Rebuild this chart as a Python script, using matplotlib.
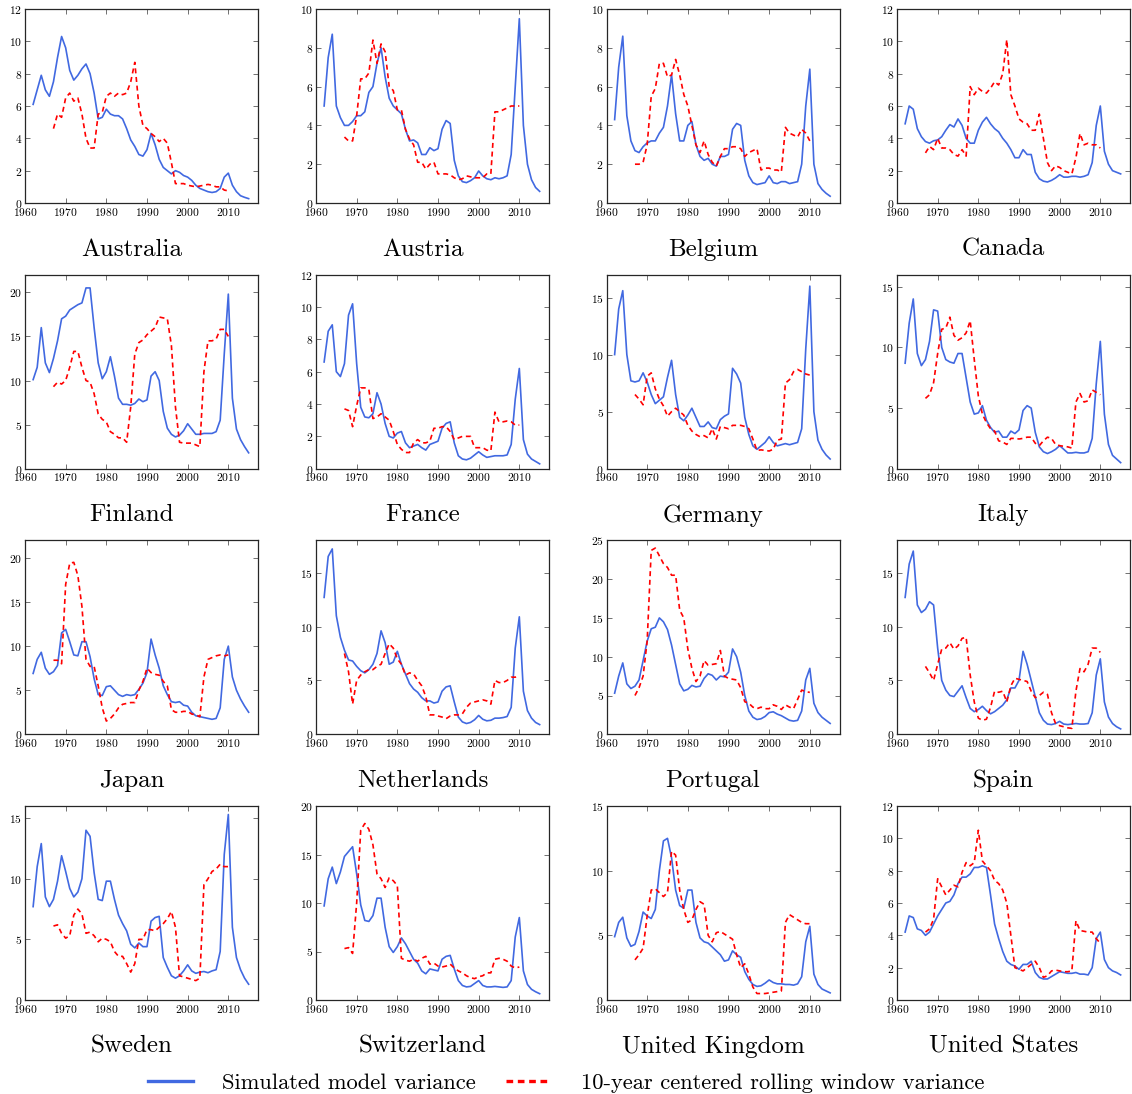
import numpy as np
import matplotlib
matplotlib.use("Agg")
import matplotlib.pyplot as plt
from matplotlib.lines import Line2D

plt.rcParams["font.family"] = "cmr10"
plt.rcParams["mathtext.fontset"] = "cm"
plt.rcParams["axes.formatter.use_mathtext"] = True

countries = ["Australia", "Austria", "Belgium", "Canada",
             "Finland", "France", "Germany", "Italy",
             "Japan", "Netherlands", "Portugal", "Spain",
             "Sweden", "Switzerland", "United Kingdom", "United States"]

# blue line: yearly values from 1962, red line: yearly values from 1967
model_start = 1962
rolling_start = 1967

australia_model = [6.1, 7.0, 7.9, 7.0, 6.6, 7.5, 9.0, 10.3, 9.6, 8.2, 7.6, 7.9, 8.3, 8.6, 8.0, 6.8, 5.2, 5.3, 5.8, 5.5,
                   5.4, 5.4, 5.2, 4.6, 3.9, 3.5, 3.0, 2.9, 3.3, 4.3, 3.6, 2.7, 2.2, 2.0, 1.8, 2.0, 1.9, 1.7, 1.6, 1.4,
                   1.1, 0.9, 0.8, 0.7, 0.65, 0.7, 0.9, 1.6, 1.85, 1.1, 0.7, 0.45, 0.35, 0.27]
australia_rolling = [4.6, 5.5, 5.3, 6.5, 6.8, 6.3, 6.5, 5.5, 4.0, 3.4, 3.4, 5.5, 5.6, 6.6, 6.8, 6.6, 6.8, 6.7, 6.8, 7.5,
                     8.7, 6.0, 4.8, 4.6, 4.3, 4.1, 3.8, 4.0, 3.7, 2.5, 1.2, 1.2, 1.2, 1.1, 1.05, 1.0, 1.05, 1.1, 1.15, 1.1,
                     1.0, 1.0, 0.8, 0.75]

austria_model = [5.0, 7.5, 8.7, 5.0, 4.4, 4.0, 4.0, 4.2, 4.5, 4.5, 4.7, 5.7, 6.0, 7.2, 8.0, 6.5, 5.4, 5.0, 4.8, 4.6,
                 3.8, 3.2, 3.25, 3.1, 2.5, 2.5, 2.85, 2.7, 2.8, 3.8, 4.25, 4.1, 2.2, 1.4, 1.1, 1.05, 1.15, 1.3, 1.65, 1.4,
                 1.25, 1.2, 1.3, 1.25, 1.3, 1.4, 2.5, 6.0, 9.5, 4.0, 2.0, 1.2, 0.8, 0.6]
austria_rolling = [3.4, 3.2, 3.2, 4.5, 6.4, 6.4, 6.7, 8.4, 7.2, 8.2, 7.8, 6.0, 5.8, 4.8, 4.8, 3.8, 3.3, 3.0, 2.1, 2.1,
                   1.75, 2.0, 2.1, 1.5, 1.5, 1.5, 1.45, 1.3, 1.2, 1.25, 1.4, 1.35, 1.3, 1.3, 1.3, 1.5, 1.5, 4.7, 4.7, 4.8,
                   4.9, 5.0, 5.0, 5.0]

belgium_model = [4.3, 7.0, 8.6, 4.5, 3.2, 2.7, 2.6, 2.9, 3.1, 3.2, 3.2, 3.6, 3.9, 5.0, 6.6, 4.6, 3.2, 3.2, 4.0, 4.2,
                 3.0, 2.4, 2.2, 2.3, 2.0, 1.9, 2.4, 2.4, 2.5, 3.8, 4.1, 4.0, 2.2, 1.4, 1.05, 0.95, 1.0, 1.05, 1.4, 1.05,
                 1.0, 1.1, 1.1, 1.0, 1.05, 1.1, 2.0, 5.0, 6.9, 2.0, 1.0, 0.7, 0.5, 0.35]
belgium_rolling = [2.0, 2.0, 2.1, 3.0, 5.5, 5.9, 7.2, 7.2, 6.5, 6.6, 7.4, 6.6, 5.6, 5.0, 4.0, 3.0, 2.6, 3.2, 2.5, 2.1,
                   1.9, 2.4, 2.8, 2.8, 2.9, 2.9, 2.8, 2.4, 2.6, 2.7, 2.8, 1.7, 1.8, 1.8, 1.7, 1.7, 1.6, 3.9, 3.6, 3.5,
                   3.4, 3.8, 3.6, 3.2]

canada_model = [4.9, 6.0, 5.8, 4.6, 4.1, 3.8, 3.7, 3.85, 3.9, 4.1, 4.5, 4.85, 4.7, 5.2, 4.8, 4.0, 3.7, 3.7, 4.5, 5.0,
                5.3, 4.9, 4.6, 4.4, 4.0, 3.7, 3.3, 2.8, 2.8, 3.3, 3.0, 3.0, 1.9, 1.5, 1.35, 1.3, 1.4, 1.55, 1.75, 1.6,
                1.6, 1.65, 1.65, 1.6, 1.65, 1.75, 2.5, 4.8, 6.0, 3.2, 2.4, 2.0, 1.9, 1.8]
canada_rolling = [3.1, 3.5, 3.3, 4.0, 3.4, 3.4, 3.3, 3.0, 2.9, 3.3, 2.9, 7.2, 6.7, 7.1, 6.9, 6.8, 7.1, 7.5, 7.3, 8.0,
                  10.1, 6.7, 6.0, 5.2, 5.0, 4.9, 4.5, 4.5, 5.5, 4.0, 2.5, 2.0, 2.3, 2.2, 2.0, 1.9, 1.8, 2.8, 4.3, 3.6,
                  3.7, 3.6, 3.6, 3.4]

finland_model = [10.1, 11.5, 16.0, 12.0, 10.9, 12.5, 14.5, 17.0, 17.3, 18.0, 18.3, 18.6, 18.8, 20.5, 20.5, 16.0, 12.0,
                 10.2, 11.0, 12.7, 10.5, 8.0, 7.3, 7.3, 7.2, 7.4, 7.9, 7.6, 7.8, 10.5, 11.0, 10.0, 6.5, 4.6, 3.9, 3.6,
                 3.8, 4.3, 5.1, 4.5, 3.9, 3.9, 4.0, 4.0, 4.0, 4.2, 5.5, 13.0, 19.8, 8.0, 4.5, 3.3, 2.5, 1.8]
finland_rolling = [9.3, 9.8, 9.6, 10.0, 11.5, 13.3, 13.3, 11.5, 10.0, 9.8, 8.5, 6.2, 5.6, 5.3, 4.2, 3.9, 3.5, 3.5, 3.0,
                   7.0, 13.0, 14.3, 14.6, 15.2, 15.6, 16.0, 17.2, 17.1, 17.0, 14.0, 7.0, 3.0, 2.9, 2.9, 2.9, 2.7, 2.5,
                   11.0, 14.5, 14.5, 14.7, 15.8, 15.8, 15.0]

france_model = [6.6, 8.5, 8.9, 6.0, 5.7, 6.5, 9.5, 10.2, 6.5, 3.8, 3.2, 3.15, 3.4, 4.7, 4.0, 2.8, 2.0, 1.9, 2.2, 2.3,
                1.6, 1.3, 1.4, 1.5, 1.3, 1.15, 1.5, 1.6, 1.7, 2.5, 2.8, 2.9, 1.6, 0.8, 0.6, 0.55, 0.65, 0.85, 1.05,
                0.85, 0.7, 0.75, 0.8, 0.8, 0.8, 0.85, 1.5, 4.3, 6.2, 1.8, 0.9, 0.6, 0.45, 0.3]
france_rolling = [3.7, 3.6, 2.6, 3.9, 5.0, 5.0, 4.9, 3.1, 3.2, 3.4, 3.2, 3.0, 2.3, 1.5, 1.2, 1.0, 1.0, 1.6, 1.8, 1.6,
                  1.6, 1.7, 2.5, 2.5, 2.6, 2.6, 2.3, 1.8, 1.9, 2.0, 2.0, 2.0, 1.3, 1.3, 1.3, 1.15, 1.1, 3.5, 2.9, 2.9,
                  2.95, 2.9, 2.7, 2.7]

germany_model = [10.0, 14.0, 15.6, 10.0, 7.7, 7.6, 7.7, 8.4, 7.6, 6.5, 5.7, 6.0, 6.3, 8.0, 9.5, 6.5, 4.5, 4.2, 4.7,
                 5.3, 4.5, 3.7, 3.7, 4.1, 3.6, 3.5, 4.3, 4.6, 4.8, 8.8, 8.3, 7.5, 4.5, 3.0, 2.0, 1.7, 2.0, 2.3, 2.8,
                 2.3, 2.0, 2.1, 2.2, 2.1, 2.2, 2.3, 3.5, 10.5, 16.0, 5.0, 2.5, 1.7, 1.2, 0.85]
germany_rolling = [6.5, 6.1, 5.6, 8.1, 8.4, 7.0, 6.1, 5.5, 4.6, 5.0, 5.3, 5.0, 4.7, 3.8, 3.3, 3.0, 2.8, 2.9, 2.7, 3.5,
                   2.6, 3.7, 3.6, 3.5, 3.8, 3.8, 3.8, 3.7, 3.5, 2.6, 1.6, 1.65, 1.6, 1.55, 1.7, 2.5, 2.6, 7.5, 7.8, 8.5,
                   8.7, 8.5, 8.3, 8.2]

italy_model = [8.7, 12.0, 14.0, 9.5, 8.5, 9.0, 10.5, 13.1, 13.0, 10.0, 9.0, 8.8, 8.7, 9.5, 9.5, 7.5, 5.5, 4.5, 4.6,
               5.2, 4.0, 3.4, 3.0, 3.1, 2.6, 2.6, 3.1, 2.9, 3.2, 4.8, 5.2, 5.0, 3.0, 1.8, 1.4, 1.25, 1.4, 1.6, 1.9, 1.6,
               1.3, 1.3, 1.35, 1.3, 1.3, 1.4, 2.5, 7.0, 10.5, 4.5, 2.0, 1.1, 0.8, 0.5]
italy_rolling = [5.8, 6.1, 7.1, 9.5, 11.5, 11.6, 12.5, 11.0, 10.6, 10.8, 11.2, 12.2, 9.0, 6.0, 4.5, 3.8, 3.3, 3.1, 2.3,
                 2.2, 2.0, 2.5, 2.5, 2.45, 2.5, 2.6, 2.6, 2.1, 1.9, 2.3, 2.6, 2.5, 2.0, 1.9, 1.85, 1.8, 1.7, 5.5, 6.2,
                 5.5, 5.6, 6.5, 6.3, 6.1]

japan_model = [6.9, 8.5, 9.3, 7.5, 6.8, 7.1, 7.8, 11.5, 11.9, 10.5, 9.0, 8.9, 10.5, 10.5, 8.8, 6.3, 4.5, 4.4, 5.4, 5.5,
               5.0, 4.5, 4.3, 4.5, 4.4, 4.5, 5.1, 5.8, 7.0, 10.8, 9.0, 7.5, 5.5, 4.5, 3.7, 3.6, 3.7, 3.3, 3.2, 2.5,
               2.1, 2.0, 1.9, 1.8, 1.7, 1.8, 3.0, 8.5, 10.0, 6.5, 5.0, 4.0, 3.2, 2.5]
japan_rolling = [8.4, 8.4, 8.0, 17.0, 19.4, 19.5, 18.0, 14.5, 8.5, 7.7, 7.7, 5.5, 3.0, 1.5, 1.8, 2.3, 3.0, 3.4, 3.5,
                 3.6, 3.6, 5.0, 6.0, 7.5, 7.0, 6.8, 6.7, 6.0, 5.5, 2.8, 2.5, 2.5, 2.6, 2.6, 2.3, 2.2, 2.0, 6.5, 8.5,
                 8.7, 8.9, 9.0, 8.9, 9.0]

netherlands_model = [12.7, 16.5, 17.2, 11.0, 9.0, 7.8, 6.9, 6.8, 6.3, 5.9, 5.7, 6.0, 6.5, 7.5, 9.6, 8.5, 6.5, 6.7, 7.7,
                     6.5, 5.6, 4.7, 4.2, 3.9, 3.4, 3.1, 3.1, 2.9, 3.0, 4.0, 4.4, 4.5, 3.0, 1.6, 1.15, 1.0, 1.1, 1.35,
                     1.75, 1.4, 1.25, 1.3, 1.5, 1.5, 1.55, 1.65, 2.5, 8.0, 10.9, 4.0, 2.2, 1.5, 1.1, 0.9]
netherlands_rolling = [7.5, 5.8, 2.8, 5.0, 5.5, 5.8, 6.0, 6.0, 6.3, 6.5, 7.5, 8.4, 8.0, 7.0, 6.5, 5.5, 5.7, 5.6, 5.0,
                       4.5, 3.5, 1.8, 1.8, 1.7, 1.6, 1.45, 1.7, 1.8, 1.8, 1.9, 2.5, 2.9, 3.0, 3.1, 3.2, 3.1, 2.8, 5.0,
                       4.8, 4.8, 5.0, 5.3, 5.3, 5.4]

portugal_model = [5.3, 7.5, 9.2, 6.5, 5.9, 6.2, 7.0, 9.5, 12.0, 13.6, 13.8, 15.0, 14.5, 13.5, 11.5, 9.0, 6.5, 5.6, 5.8,
                  6.3, 6.1, 6.2, 7.2, 7.8, 7.6, 7.0, 7.5, 7.4, 8.0, 11.0, 10.0, 8.0, 5.0, 3.0, 2.2, 1.9, 2.0, 2.3,
                  2.8, 2.9, 2.6, 2.4, 2.1, 1.8, 1.7, 1.8, 3.0, 7.0, 8.5, 4.0, 2.8, 2.2, 1.8, 1.4]
portugal_rolling = [5.0, 6.0, 7.5, 12.0, 23.7, 24.0, 23.0, 22.0, 21.5, 20.5, 20.5, 16.0, 15.0, 11.0, 8.5, 6.8, 7.5, 9.5,
                    8.9, 9.0, 9.1, 10.8, 7.5, 7.2, 7.1, 7.0, 6.0, 4.2, 4.0, 3.5, 3.3, 3.5, 3.3, 3.3, 3.8, 3.6, 3.2,
                    3.8, 3.5, 3.3, 4.5, 5.7, 5.5, 5.4]

spain_model = [12.7, 15.8, 17.0, 12.0, 11.3, 11.6, 12.3, 12.0, 8.0, 5.0, 4.1, 3.6, 3.5, 4.0, 4.5, 3.4, 2.4, 2.1, 2.3,
               2.6, 2.2, 1.9, 2.1, 2.4, 2.7, 3.2, 4.3, 4.3, 5.0, 7.7, 6.5, 5.0, 3.5, 2.0, 1.3, 0.95, 0.9, 1.0, 1.2,
               0.95, 0.9, 0.95, 1.0, 0.95, 0.95, 1.0, 2.0, 5.5, 7.0, 3.0, 1.6, 1.0, 0.7, 0.5]
spain_rolling = [6.3, 5.7, 5.0, 6.5, 7.9, 8.0, 8.5, 7.9, 8.2, 8.9, 9.0, 5.5, 3.0, 1.5, 1.3, 1.4, 2.5, 4.0, 3.9, 4.0,
                 3.0, 4.5, 5.2, 5.1, 5.0, 4.9, 4.0, 3.4, 3.6, 3.9, 3.7, 2.0, 1.0, 0.8, 0.7, 0.6, 0.55, 4.0, 6.1, 5.8,
                 6.5, 8.0, 8.0, 7.6]

sweden_model = [7.7, 11.0, 12.9, 8.5, 7.7, 8.3, 9.8, 11.9, 10.6, 9.2, 8.5, 8.9, 10.0, 14.0, 13.5, 10.5, 8.3, 8.2, 9.8,
                9.8, 8.3, 7.0, 6.3, 5.7, 4.6, 4.3, 4.7, 4.4, 4.4, 6.5, 6.8, 6.9, 3.5, 2.7, 2.0, 1.8, 2.0, 2.4, 2.9,
                2.4, 2.2, 2.3, 2.35, 2.25, 2.4, 2.5, 4.0, 12.0, 15.3, 6.0, 3.5, 2.5, 1.8, 1.3]
sweden_rolling = [6.1, 6.2, 5.5, 5.1, 5.3, 7.0, 7.5, 7.1, 5.5, 5.6, 5.3, 4.8, 5.1, 5.0, 4.8, 4.0, 3.6, 3.6, 3.0, 2.3,
                  3.0, 5.0, 5.0, 5.8, 5.8, 5.7, 6.0, 6.3, 6.7, 7.3, 6.0, 2.0, 1.9, 1.8, 1.7, 1.6, 1.8, 9.5, 10.0,
                  10.6, 10.8, 11.2, 11.0, 11.0]

switzerland_model = [9.7, 12.5, 13.7, 12.0, 13.2, 14.8, 15.3, 15.8, 13.0, 9.8, 8.2, 8.1, 8.7, 10.5, 10.5, 7.5, 5.5,
                     4.9, 5.5, 6.4, 5.8, 5.0, 4.2, 3.8, 3.0, 2.7, 3.2, 3.1, 3.0, 4.2, 4.5, 4.6, 3.2, 2.0, 1.5, 1.35,
                     1.4, 1.7, 2.0, 1.5, 1.35, 1.35, 1.4, 1.35, 1.3, 1.35, 2.0, 6.5, 8.5, 3.0, 1.6, 1.1, 0.85, 0.65]
switzerland_rolling = [5.3, 5.4, 4.8, 10.0, 17.5, 18.2, 17.6, 16.0, 13.0, 12.5, 11.6, 12.6, 12.3, 11.8, 4.3, 4.1, 4.0,
                       4.2, 4.0, 4.3, 4.5, 3.7, 3.8, 3.5, 3.4, 3.5, 3.7, 3.3, 3.0, 2.8, 2.5, 2.3, 2.2, 2.4, 2.5, 2.8,
                       2.8, 4.2, 4.3, 4.2, 4.0, 3.5, 3.3, 3.4]

uk_model = [4.9, 6.0, 6.4, 4.8, 4.15, 4.3, 5.3, 6.8, 6.5, 6.3, 7.0, 10.0, 12.3, 12.5, 11.0, 8.5, 7.3, 7.1, 8.5, 8.5,
            6.0, 4.8, 4.5, 4.4, 4.1, 3.8, 3.5, 3.0, 3.1, 3.8, 3.5, 3.3, 2.2, 1.6, 1.2, 1.05, 1.1, 1.3, 1.55, 1.35,
            1.25, 1.25, 1.2, 1.2, 1.15, 1.25, 1.8, 4.5, 5.7, 2.0, 1.2, 0.85, 0.7, 0.55]
uk_rolling = [3.1, 3.5, 4.0, 6.5, 8.5, 8.6, 8.3, 8.0, 8.3, 11.5, 11.2, 8.5, 7.0, 6.0, 6.2, 7.0, 7.6, 7.4, 5.0, 4.5,
              5.2, 5.3, 5.1, 4.9, 4.7, 3.5, 2.5, 2.8, 2.0, 1.0, 0.5, 0.5, 0.5, 0.55, 0.6, 0.65, 0.7, 6.0, 6.6, 6.4,
              6.2, 6.0, 5.9, 5.9]

us_model = [4.2, 5.2, 5.1, 4.4, 4.3, 4.0, 4.2, 4.7, 5.2, 5.6, 6.0, 6.1, 6.5, 7.2, 7.6, 7.6, 7.8, 8.2, 8.2, 8.3, 8.2,
            6.5, 4.7, 3.8, 3.0, 2.4, 2.2, 2.1, 1.9, 2.2, 2.2, 2.4, 1.7, 1.4, 1.3, 1.3, 1.45, 1.6, 1.75, 1.7, 1.65,
            1.65, 1.7, 1.6, 1.6, 1.55, 2.0, 3.8, 4.2, 2.5, 2.0, 1.8, 1.7, 1.55]
us_rolling = [4.2, 4.4, 5.0, 7.5, 7.0, 6.5, 6.8, 7.1, 7.0, 7.9, 8.5, 8.3, 8.5, 10.5, 8.6, 8.3, 8.0, 7.4, 7.2, 6.8, 6.0,
              4.0, 2.0, 1.9, 1.8, 2.0, 2.2, 2.4, 2.0, 1.4, 1.5, 1.8, 1.85, 1.8, 1.75, 1.75, 1.8, 4.9, 4.3, 4.25, 4.2,
              4.2, 3.8, 3.5]

model_series = [australia_model, austria_model, belgium_model, canada_model,
                finland_model, france_model, germany_model, italy_model,
                japan_model, netherlands_model, portugal_model, spain_model,
                sweden_model, switzerland_model, uk_model, us_model]
rolling_series = [australia_rolling, austria_rolling, belgium_rolling, canada_rolling,
                  finland_rolling, france_rolling, germany_rolling, italy_rolling,
                  japan_rolling, netherlands_rolling, portugal_rolling, spain_rolling,
                  sweden_rolling, switzerland_rolling, uk_rolling, us_rolling]

# y axis top and tick step per panel
y_tops = [12, 10, 10, 12, 22, 12, 17, 16, 22, 18, 25, 18, 16, 20, 15, 12]
y_steps = [2, 2, 2, 2, 5, 2, 5, 5, 5, 5, 5, 5, 5, 5, 5, 2]

BLUE = "#4169e1"
RED = "#ff0000"


def main():
    W, H = 1132, 1094
    fig = plt.figure(figsize=(W / 100, H / 100), dpi=100)

    col_left = [25, 316, 606.5, 897]
    row_top = [9, 274.7, 540.3, 806]
    aw, ah = 233, 194

    for i, name in enumerate(countries):
        r, c = divmod(i, 4)
        ax = fig.add_axes([col_left[c] / W, 1 - (row_top[r] + ah) / H, aw / W, ah / H])

        m = np.array(model_series[i])
        rl = np.array(rolling_series[i])
        xm = model_start + np.arange(len(m))
        xr = rolling_start + np.arange(len(rl))

        ax.plot(xm, m, color=BLUE, lw=1.2)
        ax.plot(xr, rl, color=RED, lw=1.2, dashes=(3, 2.2))

        ax.set_xlim(1960, 2017.3)
        ax.set_ylim(0, y_tops[i])
        ax.set_xticks(np.arange(1960, 2011, 10))
        ax.set_yticks(np.arange(0, y_tops[i] + 0.01, y_steps[i]))
        ax.tick_params(direction="in", top=True, right=True, length=3.5, width=0.6,
                       color="0.35", labelsize=8.3, pad=2)
        for s in ax.spines.values():
            s.set_linewidth(0.9)
            s.set_color("0.15")

        # caption sits under the panel, a bit left of centre as in the source
        ax.text(0.457, -0.24, name, transform=ax.transAxes, ha="center", va="center", fontsize=18)

    handles = [Line2D([], [], color=BLUE, lw=2.4),
               Line2D([], [], color=RED, lw=2.4, dashes=(2.0, 1.4))]
    fig.legend(handles, ["Simulated model variance", "10-year centered rolling window variance"],
               loc="center", bbox_to_anchor=(0.5, 1 - 1083 / H), ncol=2, frameon=False,
               fontsize=16.2, handlelength=2.0, handletextpad=1.3, columnspacing=1.35)

    fig.savefig("out.png", dpi=100)


if __name__ == "__main__":
    main()
